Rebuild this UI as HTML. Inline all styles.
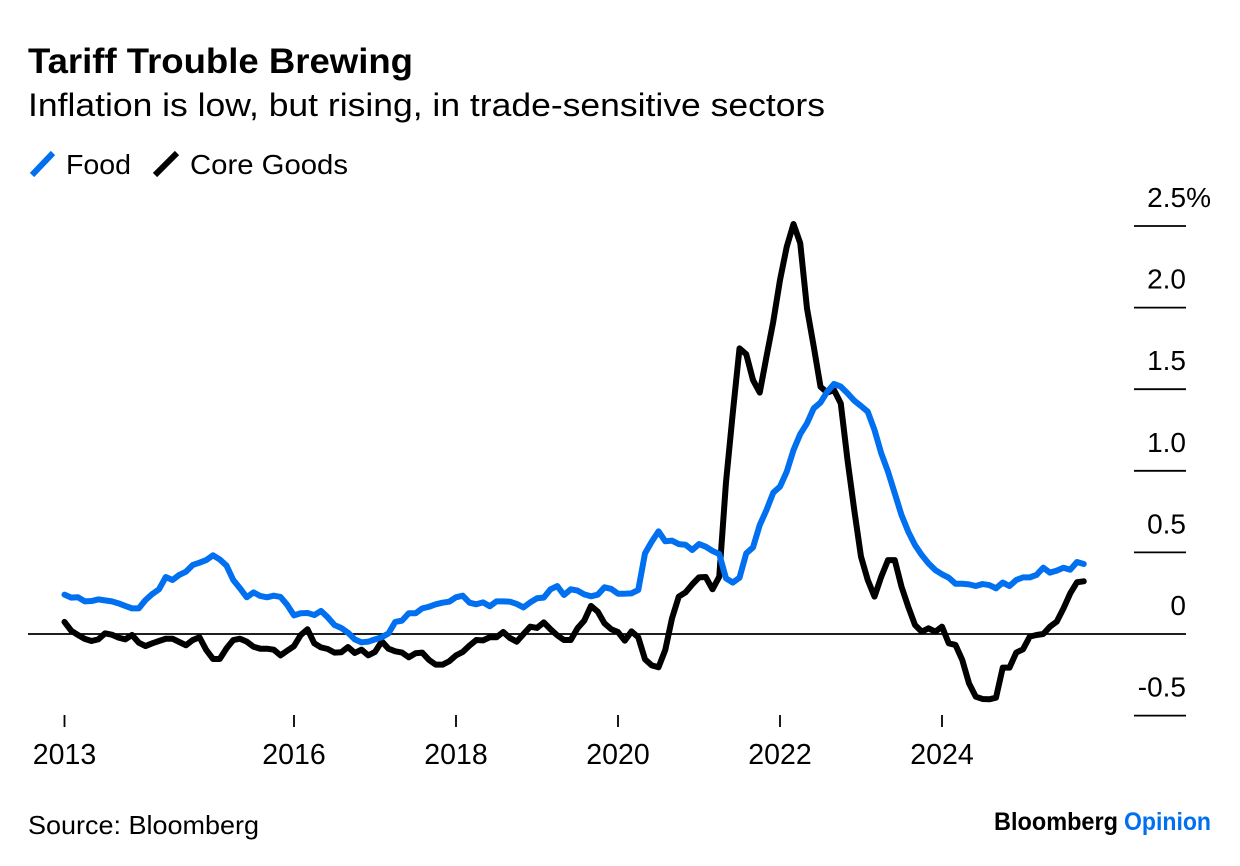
<!DOCTYPE html>
<html lang="en">
<head>
<meta charset="utf-8">
<title>Tariff Trouble Brewing</title>
<style>
html,body{margin:0;padding:0;background:#fff;width:1240px;height:866px;overflow:hidden}
svg{display:block}
text{font-family:"Liberation Sans",sans-serif;fill:#000}
</style>
</head>
<body>
<svg id="chart" width="1240" height="866" viewBox="0 0 1240 866" xmlns="http://www.w3.org/2000/svg">
  <rect width="1240" height="866" fill="#fff"/>
  <text x="28" y="73" font-size="35" font-weight="700" textLength="385" lengthAdjust="spacingAndGlyphs">Tariff Trouble Brewing</text>
  <text x="28" y="116" font-size="32" textLength="797" lengthAdjust="spacingAndGlyphs">Inflation is low, but rising, in trade-sensitive sectors</text>
  <g>
    <g>
      <line x1="32" y1="175" x2="53" y2="153" stroke="#0070f0" stroke-width="6"/>
      <text x="66" y="174" font-size="28" textLength="65" lengthAdjust="spacingAndGlyphs">Food</text>
    </g>
    <g>
      <line x1="155" y1="175" x2="177" y2="153" stroke="#000" stroke-width="6"/>
      <text x="190" y="174" font-size="28" textLength="158" lengthAdjust="spacingAndGlyphs">Core Goods</text>
    </g>
  </g>
  <g id="y-axis"></g>
  <g id="x-axis"></g>
  <g id="series"></g>
  <text x="28" y="834" font-size="26" textLength="231" lengthAdjust="spacingAndGlyphs">Source: Bloomberg</text>
  <g>
    <text x="994" y="830" font-size="25" font-weight="700" textLength="124" lengthAdjust="spacingAndGlyphs">Bloomberg</text>
    <text x="1124" y="830" font-size="25" font-weight="700" style="fill:#0070f0" textLength="87" lengthAdjust="spacingAndGlyphs">Opinion</text>
  </g>
</svg>
<script>
var startMonth = 2;
var foodValues = [
  0.241,0.223,0.225,0.200,0.202,0.212,0.206,0.200,0.188,0.172,
  0.157,0.157,0.208,0.245,0.274,0.349,0.331,0.362,0.382,0.423,
  0.437,0.453,0.482,0.457,0.419,0.331,0.280,0.225,0.255,0.233,
  0.225,0.235,0.227,0.178,0.114,0.127,0.129,0.116,0.141,0.102,
  0.055,0.037,0.008,-0.033,-0.051,-0.047,-0.033,-0.020,0.004,0.074,
  0.082,0.127,0.127,0.157,0.167,0.182,0.192,0.198,0.225,0.235,
  0.192,0.182,0.194,0.170,0.200,0.200,0.198,0.184,0.163,0.194,
  0.219,0.223,0.274,0.294,0.239,0.274,0.266,0.243,0.231,0.241,
  0.286,0.276,0.247,0.247,0.249,0.270,0.494,0.566,0.629,0.568,
  0.572,0.551,0.547,0.515,0.551,0.535,0.509,0.490,0.341,0.315,
  0.345,0.494,0.531,0.668,0.760,0.866,0.903,0.995,1.127,1.225,
  1.291,1.383,1.418,1.485,1.532,1.516,1.475,1.430,1.397,1.362,
  1.250,1.107,0.995,0.862,0.729,0.627,0.545,0.484,0.433,0.392,
  0.366,0.345,0.308,0.308,0.304,0.294,0.306,0.300,0.280,0.315,
  0.294,0.331,0.347,0.347,0.362,0.406,0.376,0.388,0.406,0.394,
  0.441,0.429
];
var coreGoodsValues = [
  0.074,0.020,-0.006,-0.030,-0.043,-0.033,0.004,-0.004,-0.022,-0.033,
  -0.006,-0.053,-0.074,-0.057,-0.043,-0.029,-0.029,-0.049,-0.069,-0.037,
  -0.020,-0.098,-0.153,-0.153,-0.088,-0.037,-0.029,-0.047,-0.078,-0.090,
  -0.090,-0.096,-0.131,-0.102,-0.074,-0.006,0.029,-0.057,-0.082,-0.092,
  -0.114,-0.112,-0.080,-0.116,-0.096,-0.131,-0.110,-0.045,-0.090,-0.106,
  -0.114,-0.143,-0.118,-0.114,-0.159,-0.188,-0.188,-0.167,-0.131,-0.110,
  -0.071,-0.037,-0.039,-0.020,-0.020,0.012,-0.025,-0.047,0.000,0.045,
  0.037,0.071,0.029,-0.008,-0.037,-0.037,0.035,0.082,0.172,0.137,
  0.065,0.029,0.012,-0.041,0.016,-0.020,-0.155,-0.192,-0.204,-0.098,
  0.096,0.229,0.255,0.304,0.347,0.349,0.274,0.351,0.930,1.352,
  1.750,1.714,1.556,1.479,1.700,1.914,2.169,2.373,2.512,2.394,
  1.995,1.761,1.515,1.479,1.495,1.413,1.066,0.760,0.474,0.331,
  0.229,0.351,0.453,0.453,0.290,0.167,0.055,0.014,0.035,0.014,
  0.045,-0.057,-0.067,-0.159,-0.302,-0.384,-0.398,-0.400,-0.390,-0.206,
  -0.206,-0.114,-0.094,-0.016,-0.006,0.000,0.045,0.076,0.157,0.249,
  0.317,0.323
];
var yTickValues = [2.5, 2, 1.5, 1, 0.5, 0, -0.5];
var yTickLabels = ["2.5%", "2.0", "1.5", "1.0", "0.5", "0", "-0.5"];
var xTickMonths = [2, 36, 60, 84, 108, 132];
var xTickLabels = ["2013", "2016", "2018", "2020", "2022", "2024"];

var SVG_NS = "http://www.w3.org/2000/svg";
function xScale(month) { return 618 + (month - 84) * 6.75; }
function yScale(value) { return 634 - 163.2 * value; }

function make(tag, attrs, parent) {
  var el = document.createElementNS(SVG_NS, tag);
  for (var k in attrs) { el.setAttribute(k, attrs[k]); }
  parent.appendChild(el);
  return el;
}

var yAxis = document.getElementById("y-axis");
yTickValues.forEach(function (value, i) {
  var y = yScale(value);
  var isZero = value === 0;
  var tick = make("line", { x1: isZero ? 28 : 1134, x2: 1186, y1: y, y2: y, stroke: "#000", "stroke-width": 1.8 }, yAxis);
  
  
  var label = make("text", { x: yTickLabels[i].indexOf("%") >= 0 ? 1211 : 1186, y: y - 19, "font-size": 28, "text-anchor": "end" }, yAxis);
  
  
  label.textContent = yTickLabels[i];
});

var xAxis = document.getElementById("x-axis");
xTickMonths.forEach(function (month, i) {
  var x = xScale(month);
  var tick = make("line", { x1: x, x2: x, y1: 715, y2: 727, stroke: "#000", "stroke-width": 1.8 }, xAxis);
  
  
  var label = make("text", { x: x, y: 764, "font-size": 28.5, "text-anchor": "middle" }, xAxis);
  
  
  label.textContent = xTickLabels[i];
});

function linePoints(values) {
  return values.map(function (value, i) {
    return xScale(startMonth + i).toFixed(2) + "," + yScale(value).toFixed(2);
  }).join(" ");
}

var seriesGroup = document.getElementById("series");
var coreLine = make("polyline", { points: linePoints(coreGoodsValues), fill: "none", stroke: "#000", "stroke-width": 6, "stroke-linejoin": "round", "stroke-linecap": "round" }, seriesGroup);


var foodLine = make("polyline", { points: linePoints(foodValues), fill: "none", stroke: "#0070f0", "stroke-width": 6, "stroke-linejoin": "round", "stroke-linecap": "round" }, seriesGroup);


</script>
</body>
</html>
